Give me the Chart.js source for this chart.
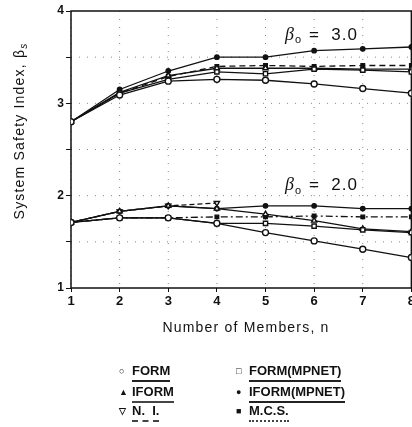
<!DOCTYPE html>
<html>
<head>
<meta charset="utf-8">
<script src="https://cdn.jsdelivr.net/npm/chart.js@4.4.0/dist/chart.umd.min.js"></script>
<style>
  body { margin: 0; background: #fff; }
  #wrap { position: relative; width: 412px; height: 427px; overflow: hidden; }
  .leg { position: absolute; font: bold 13px "Liberation Sans", Arial, sans-serif; color: #111; line-height: 14px; }
  .leg .m { position: absolute; left: 0; top: 0; font-size: 9px; }
  .leg .t { position: absolute; left: 13px; top: 0; padding-bottom: 2px; white-space: nowrap; }
</style>
</head>
<body>
<div id="wrap">
  <canvas id="c" width="417" height="427"></canvas>
  <div class="leg" style="left:119px;top:364px"><span class="m">&#9675;</span><span class="t" style="border-bottom:2px solid #222">FORM</span></div>
  <div class="leg" style="left:119px;top:385px"><span class="m">&#9650;</span><span class="t" style="border-bottom:2px solid #444">IFORM</span></div>
  <div class="leg" style="left:119px;top:404px"><span class="m">&#9661;</span><span class="t" style="border-bottom:2px dashed #444">N.&nbsp; I.</span></div>
  <div class="leg" style="left:236px;top:364px"><span class="m">&#9633;</span><span class="t" style="border-bottom:2px solid #222">FORM(MPNET)</span></div>
  <div class="leg" style="left:236px;top:385px"><span class="m">&#9679;</span><span class="t" style="border-bottom:2px solid #222">IFORM(MPNET)</span></div>
  <div class="leg" style="left:236px;top:404px"><span class="m">&#9632;</span><span class="t" style="border-bottom:2px dotted #444">M.C.S.</span></div>
</div>
<script>
// numero de miembros
const members = [1, 2, 3, 4, 5, 6, 7, 8];
const yTicks = [1, 2, 3, 4];

// beta_o = 3.0
const form3 = [2.80, 3.09, 3.24, 3.26, 3.25, 3.21, 3.16, 3.11];
const formMp3 = [2.80, 3.11, 3.26, 3.34, 3.32, 3.37, 3.36, 3.34];
const iform3 = [2.80, 3.12, 3.30, 3.38, 3.38, 3.38, 3.37, 3.37];
const iformMp3 = [2.80, 3.15, 3.35, 3.50, 3.50, 3.57, 3.59, 3.61];
const mcs3 = [2.80, 3.11, 3.29, 3.40, 3.41, 3.40, 3.41, 3.41];

// beta_o = 2.0
const form2 = [1.71, 1.76, 1.76, 1.70, 1.60, 1.51, 1.42, 1.33];
const formMp2 = [1.71, 1.76, 1.76, 1.70, 1.70, 1.67, 1.63, 1.60];
const iform2 = [1.71, 1.83, 1.89, 1.86, 1.80, 1.73, 1.64, 1.61];
const iformMp2 = [1.71, 1.83, 1.89, 1.86, 1.89, 1.89, 1.86, 1.86];
const ni2 = [1.71, 1.83, 1.89, 1.92];
const mcs2 = [1.71, 1.76, 1.76, 1.77, 1.77, 1.78, 1.77, 1.77];

// etiquetas beta_o: [valor, y del texto]
const betaLabels = [[3.0, 3.74], [2.0, 2.11]];

const pts = arr => arr.map((v, i) => ({ x: members[i], y: v }));

function serie(data, style, opts) {
  return Object.assign({
    data: pts(data),
    borderColor: '#111',
    borderWidth: 1.3,
    pointStyle: style,
    pointRadius: 3,
    pointBorderWidth: 1.4,
    pointBorderColor: '#111',
    pointBackgroundColor: '#fff',
    tension: 0
  }, opts || {});
}

const datasets = [
  serie(form3, 'circle'),
  serie(formMp3, 'rect'),
  serie(iform3, 'triangle'),
  serie(iformMp3, 'circle', { pointRadius: 2.2, pointBackgroundColor: '#111' }),
  serie(mcs3, 'rect', { borderDash: [6, 4], pointBackgroundColor: '#111', pointRadius: 2.5 }),
  serie(form2, 'circle'),
  serie(formMp2, 'rect'),
  serie(iform2, 'triangle'),
  serie(iformMp2, 'circle', { pointRadius: 2.2, pointBackgroundColor: '#111' }),
  serie(ni2, 'triangle', { borderDash: [5, 3], rotation: 180 }),
  serie(mcs2, 'rect', { borderDash: [7, 3, 2, 3], pointBackgroundColor: '#111', pointRadius: 2.5 })
];

// rejilla punteada, titulos y anotaciones
const extras = {
  id: 'extras',
  beforeDatasetsDraw(chart) {
    const { ctx, chartArea: a, scales: { x, y } } = chart;
    ctx.save();
    ctx.strokeStyle = '#888';
    ctx.lineWidth = 1;
    ctx.setLineDash([1, 7]);
    members.forEach(v => {
      const px = x.getPixelForValue(v);
      ctx.beginPath(); ctx.moveTo(px, a.top); ctx.lineTo(px, a.bottom); ctx.stroke();
    });
    for (let v = 1.5; v < 4; v += 0.5) {
      const py = y.getPixelForValue(v);
      ctx.beginPath(); ctx.moveTo(a.left, py); ctx.lineTo(a.right, py); ctx.stroke();
    }
    ctx.setLineDash([]);
    ctx.strokeStyle = '#111';
    ctx.lineWidth = 1.5;
    ctx.strokeRect(a.left, a.top, a.right - a.left, a.bottom - a.top);
    ctx.restore();
  },
  afterDraw(chart) {
    const { ctx, scales: { x, y } } = chart;
    ctx.save();
    ctx.fillStyle = '#111';
    ctx.font = '14px "Liberation Sans", Arial, sans-serif';
    ctx.letterSpacing = '1.2px';
    ctx.textAlign = 'center';
    ctx.textBaseline = 'middle';
    ctx.fillText('Number of Members, n', 246, 328);

    // titulo eje y con subindice
    ctx.translate(20, 131);
    ctx.rotate(-Math.PI / 2);
    const main = 'System Safety Index, \u03B2';
    const w = ctx.measureText(main).width;
    ctx.font = 'italic 10px "Liberation Sans", Arial, sans-serif';
    const ws = ctx.measureText('s').width;
    ctx.font = '14px "Liberation Sans", Arial, sans-serif';
    ctx.textAlign = 'left';
    const x0 = -(w + ws) / 2;
    ctx.fillText(main, x0, 0);
    ctx.font = 'italic 10px "Liberation Sans", Arial, sans-serif';
    ctx.fillText('s', x0 + w, 4);
    ctx.restore();

    ctx.save();
    ctx.fillStyle = '#111';
    ctx.textBaseline = 'middle';
    betaLabels.forEach(([b, yv]) => {
      const px = x.getPixelForValue(5.4);
      const py = y.getPixelForValue(yv);
      ctx.font = 'italic 18px "Liberation Serif", serif';
      ctx.fillText('\u03B2', px, py);
      ctx.font = '11px "Liberation Sans", Arial, sans-serif';
      ctx.fillText('o', px + 10, py + 5);
      ctx.font = '17px "Liberation Sans", Arial, sans-serif';
      ctx.letterSpacing = '1px';
      ctx.fillText('=  ' + b.toFixed(1), px + 24, py);
      ctx.letterSpacing = '0px';
    });
    ctx.restore();
  }
};

new Chart(document.getElementById('c'), {
  type: 'line',
  data: { datasets },
  options: {
    responsive: false,
    animation: false,
    layout: { padding: { top: 11, right: 2, bottom: 93, left: 0 } },
    plugins: { legend: { display: false }, tooltip: { enabled: false } },
    scales: {
      x: {
        type: 'linear',
        min: 1, max: 8,
        afterFit: s => { s.height = 46; },
        grid: { drawOnChartArea: false, color: '#111', tickLength: 4 },
        border: { display: false },
        ticks: { stepSize: 1, color: '#111', padding: 2, font: { family: 'Liberation Sans', size: 13, weight: 'bold' } }
      },
      y: {
        min: 1, max: 4,
        afterFit: s => { s.width = 71; },
        grid: { drawOnChartArea: false, color: '#111', tickLength: 5 },
        border: { display: false },
        ticks: {
          stepSize: 0.5, color: '#111', padding: 2,
          font: { family: 'Liberation Sans', size: 12, weight: 'bold' },
          callback: v => yTicks.includes(v) ? String(v) : ''
        }
      }
    }
  },
  plugins: [extras]
});
</script>
</body>
</html>
